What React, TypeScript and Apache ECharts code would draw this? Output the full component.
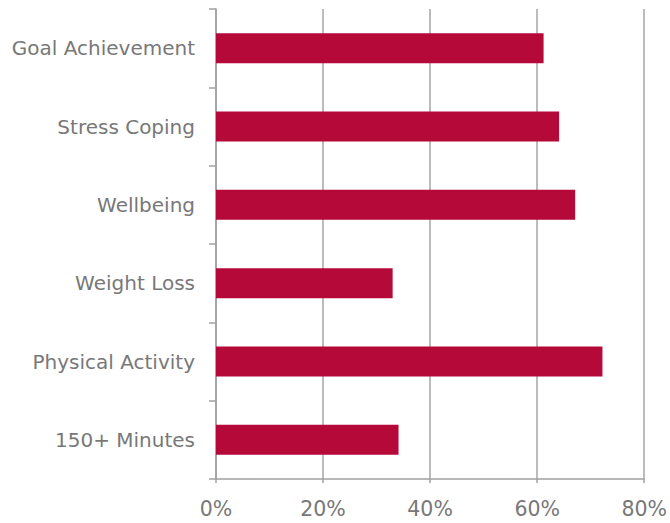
import React, { useEffect, useRef } from "react";
import * as echarts from "echarts";

const categories = [
  "Goal Achievement",
  "Stress Coping",
  "Wellbeing",
  "Weight Loss",
  "Physical Activity",
  "150+ Minutes",
];
const values = [61.2, 64.1, 67.1, 33.0, 72.2, 34.1];
const xTicks = [0, 20, 40, 60, 80];

export default function App() {
  const ref = useRef<HTMLDivElement>(null);
  useEffect(() => {
    if (!ref.current) return;
    const chart = echarts.init(ref.current, null, { renderer: "svg" });
    const grey = "#787878";
    const font = "DejaVu Sans, sans-serif";
    chart.setOption({
      animation: false,
      grid: { left: 216, right: 25, top: 9, bottom: 44, containLabel: false },
      xAxis: {
        type: "value",
        min: xTicks[0],
        max: xTicks[xTicks.length - 1],
        interval: 20,
        axisLine: { show: true, lineStyle: { color: "#a0a0a0", width: 1.5 } },
        axisTick: { show: true, length: 4, lineStyle: { color: "#a0a0a0", width: 1.5 } },
        splitLine: { show: true, lineStyle: { color: "#a6a6a6", width: 1.5 } },
        axisLabel: {
          color: grey,
          fontSize: 20.5,
          margin: 19,
          fontFamily: font,
          formatter: (v: number) => v + "%",
        },
      },
      yAxis: {
        type: "category",
        data: categories,
        inverse: true,
        axisLine: { show: true, lineStyle: { color: "#a0a0a0", width: 1.5 } },
        axisTick: { show: true, length: 7, lineStyle: { color: "#a0a0a0", width: 1.5 } },
        splitLine: { show: false },
        axisLabel: {
          color: grey,
          fontSize: 20,
          margin: 21,
          fontFamily: font,
        },
      },
      series: [
        {
          type: "bar",
          data: values,
          barWidth: 30,
          itemStyle: { color: "#b5093a" },
        },
      ],
    });
    return () => chart.dispose();
  }, []);
  return <div ref={ref} style={{ width: 670, height: 523, position: "absolute", left: 0, top: 0 }} />;
}
